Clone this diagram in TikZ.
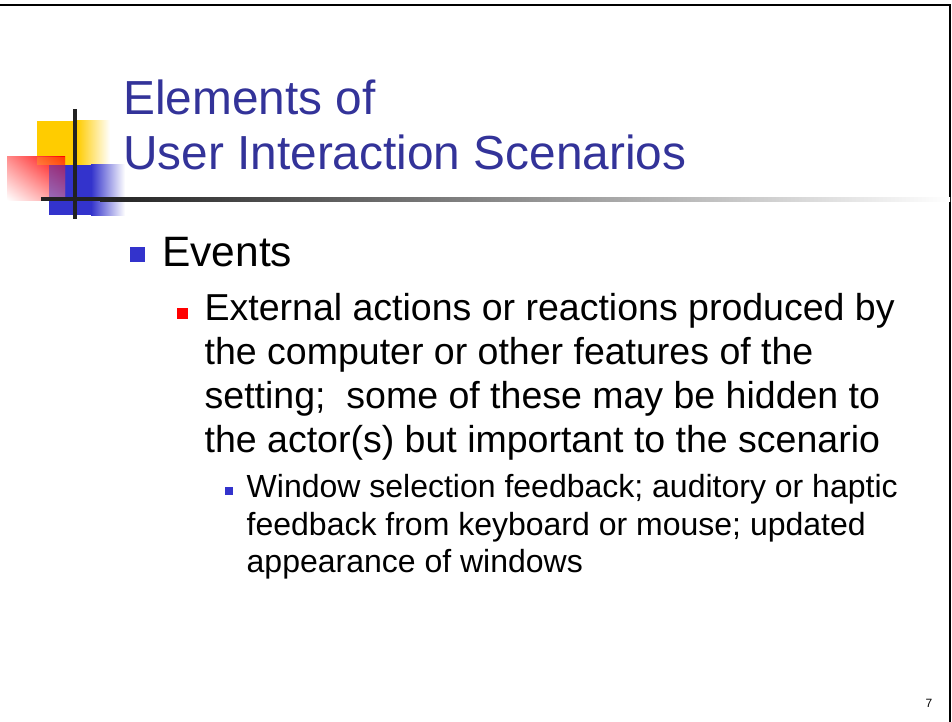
\documentclass[tikz,border=0pt]{standalone}
\definecolor{SlideTitle}{RGB}{51, 51, 153}
\definecolor{SlideBlue}{RGB}{51, 51, 204}
\definecolor{SlideYellow}{RGB}{255, 204, 0}
\definecolor{SlideRed}{RGB}{255, 0, 0}
\definecolor{SlideBar}{RGB}{34, 34, 34}
\usepackage{fontspec}
\setmainfont{Liberation Sans}
\usetikzlibrary{positioning, shadings}

\begin{document}
\begin{tikzpicture}[x=1pt, y=1pt,
    slidetext/.style={anchor=base west, inner sep=0pt, align=left},
    bulletsq/.style={draw=none}]
    \useasboundingbox (0,0) rectangle (952,-722);

    \draw[line width=2pt] (0,-5) -- (950,-5) -- (950,-722);

    \fill[SlideYellow] (37,-121) rectangle (77,-165);
    \fill[left color=SlideYellow, right color=white] (77,-121) rectangle (110,-165);
    \fill[SlideBlue] (49,-165) rectangle (91,-215);
    \fill[left color=SlideBlue, right color=white] (91,-165) rectangle (125,-215);
    \shade[upper right=SlideRed, upper left=SlideRed!45!white, lower right=SlideRed!45!white, lower left=white] (7,-157) rectangle (65,-200);
    \fill[SlideYellow, fill opacity=0.3] (37,-157) rectangle (65,-165);
    \fill[SlideBlue, fill opacity=0.5] (49,-165) rectangle (65,-200);
    \fill[SlideBar] (41,-197) rectangle (100,-201);
    \fill[left color=SlideBar, right color=white] (100,-197) rectangle (950,-201);
    \fill[SlideBar] (73,-109) rectangle (77,-219);

    \node[slidetext, text=SlideTitle, font=\fontsize{47.8}{55}\selectfont] (title) at (123,-169.5) {Elements of\\User Interaction Scenarios};

    \fill[SlideBlue, bulletsq] (129.5,-246.5) rectangle (144.5,-261.5);
    \node[slidetext, font=\fontsize{42.5}{48}\selectfont] (events) at (162,-266) {Events};

    \fill[SlideRed, bulletsq] (177,-308) rectangle (188,-319);
    \node[slidetext, font=\fontsize{37.5}{44}\selectfont] (external) at (204.5,-452) {External actions or reactions produced by\\the computer or other features of the\\setting;~ some of these may be hidden to\\the actor(s) but important to the scenario};

    \fill[SlideBlue, bulletsq] (225,-487) rectangle (233,-495);
    \node[slidetext, font=\fontsize{32}{37.5}\selectfont] (feedback) at (246.5,-572.5) {Window selection feedback; auditory or haptic\\feedback from keyboard or mouse; updated\\appearance of windows};

    \node[slidetext, font=\fontsize{12}{14}\selectfont] (pagenum) at (925.5,-707) {7};
\end{tikzpicture}
\end{document}
